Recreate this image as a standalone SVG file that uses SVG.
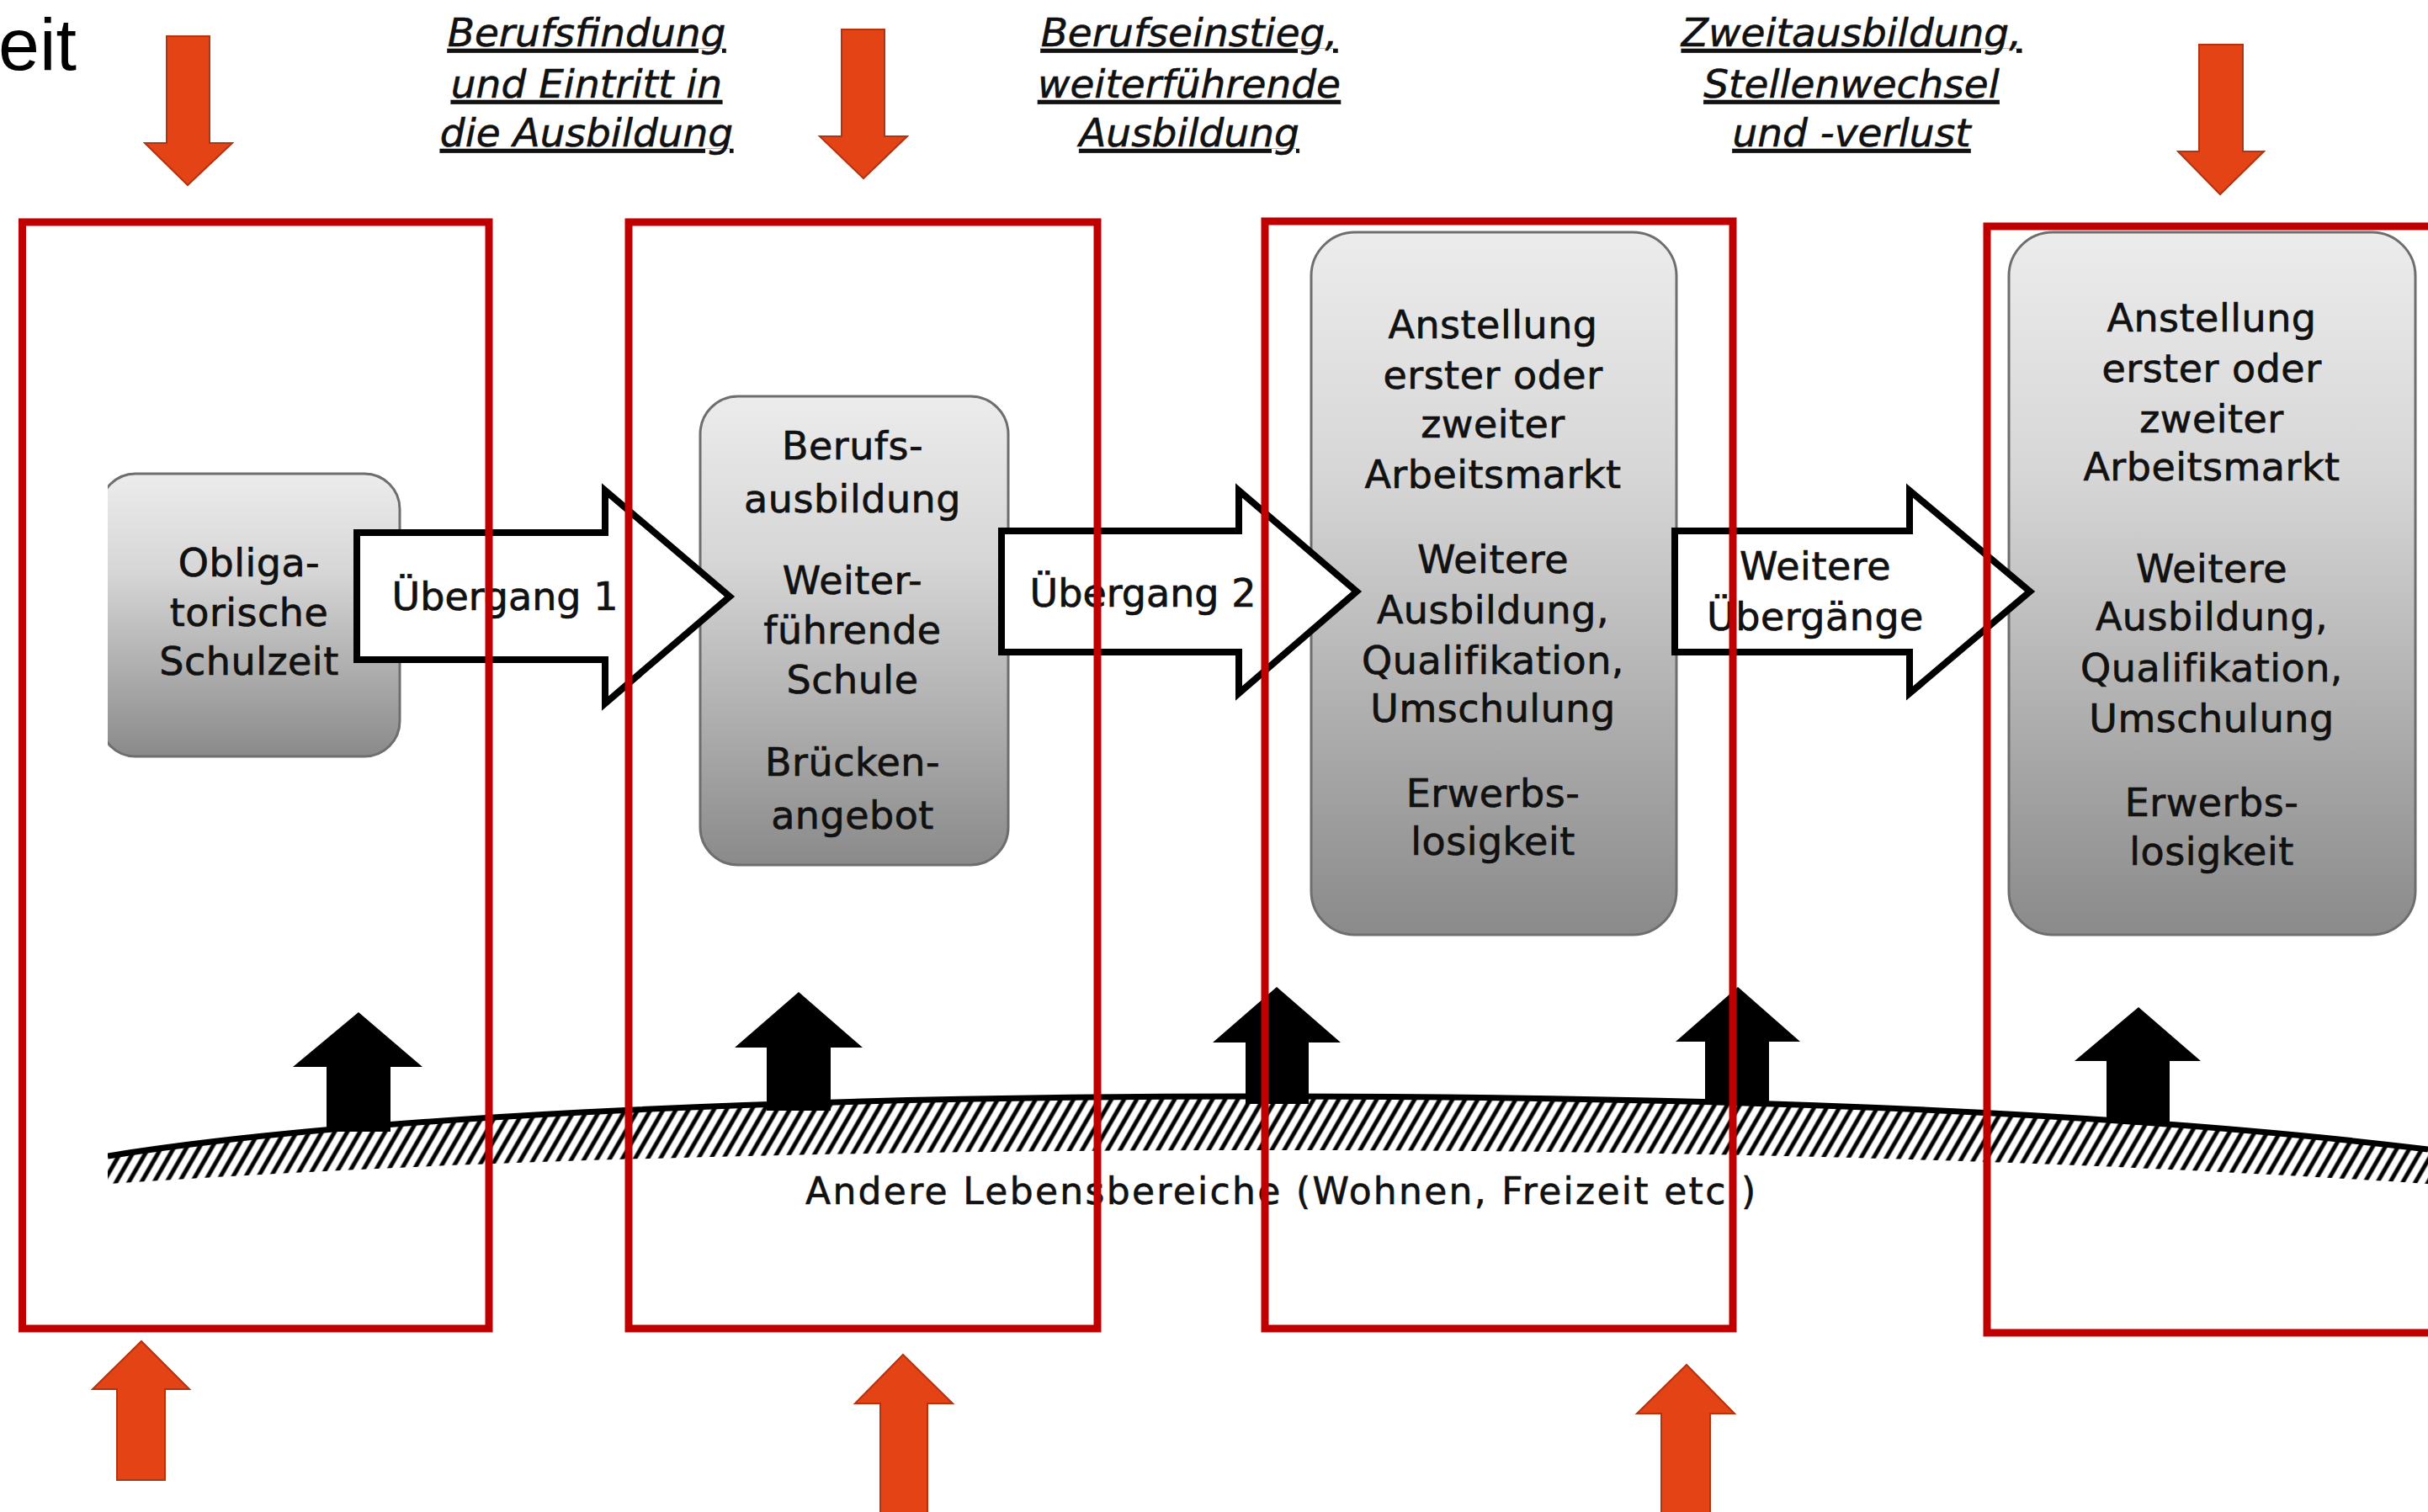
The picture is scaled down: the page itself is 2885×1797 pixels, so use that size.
<svg xmlns="http://www.w3.org/2000/svg" width="2885" height="1797" viewBox="0 0 2885 1797">
  <style>
    .node-box { fill: url(#nodeFill); stroke: #6e6e6e; stroke-width: 3; }
    .node-text { font-family: "DejaVu Sans", "Noto Sans", sans-serif; font-size: 46px; letter-spacing: 0.5px; fill: #111; stroke: #111; stroke-width: 0.7px; text-anchor: middle; }
    .flow { fill: #ffffff; stroke: #000; stroke-width: 8; stroke-linejoin: miter; }
    .flow-text { font-family: "DejaVu Sans", "Noto Sans", sans-serif; font-size: 46px; fill: #111; stroke: #111; stroke-width: 0.7px; text-anchor: middle; }
    .phase { font-family: "DejaVu Sans", "Noto Sans", sans-serif; font-size: 47px; font-style: italic; fill: #111; stroke: #111; stroke-width: 0.6px; text-anchor: middle; text-decoration: underline; text-decoration-thickness: 4px; }
    .lift { fill: #000; }
    .mark { fill: #E44316; stroke: #B3330F; stroke-width: 2; }
    .frame { fill: none; stroke: #C00000; stroke-width: 9; }
    .ground-label { font-family: "DejaVu Sans", "Noto Sans", sans-serif; font-size: 44px; letter-spacing: 2.3px; fill: #111; stroke: #111; stroke-width: 0.6px; }
  </style>
  <defs>
    <linearGradient id="nodeFill" x1="0" y1="0" x2="0" y2="1">
      <stop offset="0" stop-color="#ececec"/>
      <stop offset="0.35" stop-color="#d6d6d6"/>
      <stop offset="1" stop-color="#8a8a8a"/>
    </linearGradient>
    <pattern id="hatch" patternUnits="userSpaceOnUse" width="13" height="13" patternTransform="rotate(30)">
      <rect width="13" height="13" fill="#fff"/>
      <line x1="3" y1="-2" x2="3" y2="15" stroke="#000" stroke-width="5"/>
    </pattern>
    <clipPath id="cutLeft">
      <rect x="128" y="0" width="2757" height="1797"/>
    </clipPath>
  </defs>

  <rect width="2885" height="1797" fill="#fff"/>

  <!-- clipped heading word -->
  <text x="-2" y="83" font-family="Liberation Sans, Arial, sans-serif" font-size="88" fill="#000">eit</text>

  <!-- other areas of life: hatched ground -->
  <g id="ground" clip-path="url(#cutLeft)">
    <path d="M128,1374 C400,1330 900,1303 1500,1303 C2100,1303 2550,1325 2885,1366 L2885,1407 C2550,1385 2100,1367 1500,1367 C900,1367 450,1385 128,1407 Z" fill="url(#hatch)"/>
    <path d="M128,1374 C400,1330 900,1303 1500,1303 C2100,1303 2550,1325 2885,1366" fill="none" stroke="#000" stroke-width="7"/>
  </g>
  <text class="ground-label" x="957" y="1431">Andere Lebensbereiche (Wohnen, Freizeit etc.)</text>

  <!-- influences from the other areas of life -->
  <g id="influences">
    <polygon class="lift" points="426,1203 502,1268 464,1268 464,1345 388,1345 388,1268 348,1268"/>
    <polygon class="lift" points="949,1179 1025,1245 987,1245 987,1320 911,1320 911,1245 873,1245"/>
    <polygon class="lift" points="1517,1173 1593,1239 1555,1239 1555,1312 1480,1312 1480,1239 1441,1239"/>
    <polygon class="lift" points="2065,1173 2139,1238 2102,1238 2102,1312 2026,1312 2026,1238 1991,1238"/>
    <polygon class="lift" points="2541,1197 2615,1261 2578,1261 2578,1335 2503,1335 2503,1261 2465,1261"/>
  </g>

  <!-- stages -->
  <g id="node-schule" clip-path="url(#cutLeft)">
    <rect class="node-box" x="119" y="563" width="356" height="336" rx="42"/>
    <text class="node-text" x="296" y="685">Obliga-</text>
    <text class="node-text" x="296" y="744">torische</text>
    <text class="node-text" x="296" y="802">Schulzeit</text>
  </g>
  <g id="node-ausbildung">
    <rect class="node-box" x="832" y="471" width="366" height="557" rx="45"/>
    <text class="node-text" x="1013" y="546">Berufs-</text>
    <text class="node-text" x="1013" y="609">ausbildung</text>
    <text class="node-text" x="1013" y="706">Weiter-</text>
    <text class="node-text" x="1013" y="765">führende</text>
    <text class="node-text" x="1013" y="824">Schule</text>
    <text class="node-text" x="1013" y="922">Brücken-</text>
    <text class="node-text" x="1013" y="985">angebot</text>
  </g>
  <g id="node-arbeitsmarkt-1">
    <rect class="node-box" x="1558" y="276" width="434" height="835" rx="52"/>
    <text class="node-text" x="1774" y="402">Anstellung</text>
    <text class="node-text" x="1774" y="462">erster oder</text>
    <text class="node-text" x="1774" y="520">zweiter</text>
    <text class="node-text" x="1774" y="580">Arbeitsmarkt</text>
    <text class="node-text" x="1774" y="681">Weitere</text>
    <text class="node-text" x="1774" y="741">Ausbildung,</text>
    <text class="node-text" x="1774" y="801">Qualifikation,</text>
    <text class="node-text" x="1774" y="858">Umschulung</text>
    <text class="node-text" x="1774" y="959">Erwerbs-</text>
    <text class="node-text" x="1774" y="1016">losigkeit</text>
  </g>
  <g id="node-arbeitsmarkt-2">
    <rect class="node-box" x="2387" y="276" width="483" height="835" rx="52"/>
    <text class="node-text" x="2628" y="394">Anstellung</text>
    <text class="node-text" x="2628" y="454">erster oder</text>
    <text class="node-text" x="2628" y="514">zweiter</text>
    <text class="node-text" x="2628" y="571">Arbeitsmarkt</text>
    <text class="node-text" x="2628" y="692">Weitere</text>
    <text class="node-text" x="2628" y="749">Ausbildung,</text>
    <text class="node-text" x="2628" y="810">Qualifikation,</text>
    <text class="node-text" x="2628" y="870">Umschulung</text>
    <text class="node-text" x="2628" y="970">Erwerbs-</text>
    <text class="node-text" x="2628" y="1028">losigkeit</text>
  </g>

  <!-- transitions between stages -->
  <g id="connectors">
    <polygon class="flow" points="424,633 719,633 719,583 867,709 719,836 719,784 424,784"/>
    <text class="flow-text" x="600" y="725">Übergang 1</text>
    <polygon class="flow" points="1190,631 1472,631 1472,583 1612,703 1472,824 1472,775 1190,775"/>
    <text class="flow-text" x="1358" y="721">Übergang 2</text>
    <polygon class="flow" points="1990,631 2269,631 2269,583 2412,703 2269,824 2269,775 1990,775"/>
    <text class="node-text" x="2157" y="689">Weitere</text>
    <text class="node-text" x="2157" y="749">Übergänge</text>
  </g>

  <!-- phase headings -->
  <g id="phases">
    <text class="phase" x="697" y="55">Berufsfindung</text>
    <text class="phase" x="697" y="116">und Eintritt in</text>
    <text class="phase" x="697" y="174">die Ausbildung</text>
    <text class="phase" x="1413" y="55">Berufseinstieg,</text>
    <text class="phase" x="1413" y="116">weiterführende</text>
    <text class="phase" x="1413" y="174">Ausbildung</text>
    <text class="phase" x="2200" y="55">Zweitausbildung,</text>
    <text class="phase" x="2200" y="116">Stellenwechsel</text>
    <text class="phase" x="2200" y="174">und -verlust</text>
  </g>

  <!-- red pointer arrows -->
  <g id="pointers">
    <polygon class="mark" points="198,43 249,43 249,170 276,170 223,220 172,170 198,170"/>
    <polygon class="mark" points="1000,35 1051,35 1051,162 1078,162 1026,212 974,162 1000,162"/>
    <polygon class="mark" points="2613,53 2665,53 2665,180 2690,180 2638,231 2588,180 2613,180"/>
    <polygon class="mark" points="168,1594 225,1651 196,1651 196,1759 139,1759 139,1651 110,1651"/>
    <polygon class="mark" points="1073,1610 1132,1668 1102,1668 1102,1805 1046,1805 1046,1668 1016,1668"/>
    <polygon class="mark" points="2004,1622 2061,1680 2032,1680 2032,1805 1974,1805 1974,1680 1945,1680"/>
  </g>

  <!-- red frames around the transition zones -->
  <g id="frames">
    <rect class="frame" x="26.5" y="264" width="554.5" height="1315"/>
    <rect class="frame" x="747" y="264" width="557" height="1315"/>
    <rect class="frame" x="1503" y="263" width="556" height="1316"/>
    <rect class="frame" x="2361" y="269" width="600" height="1315"/>
  </g>
</svg>
